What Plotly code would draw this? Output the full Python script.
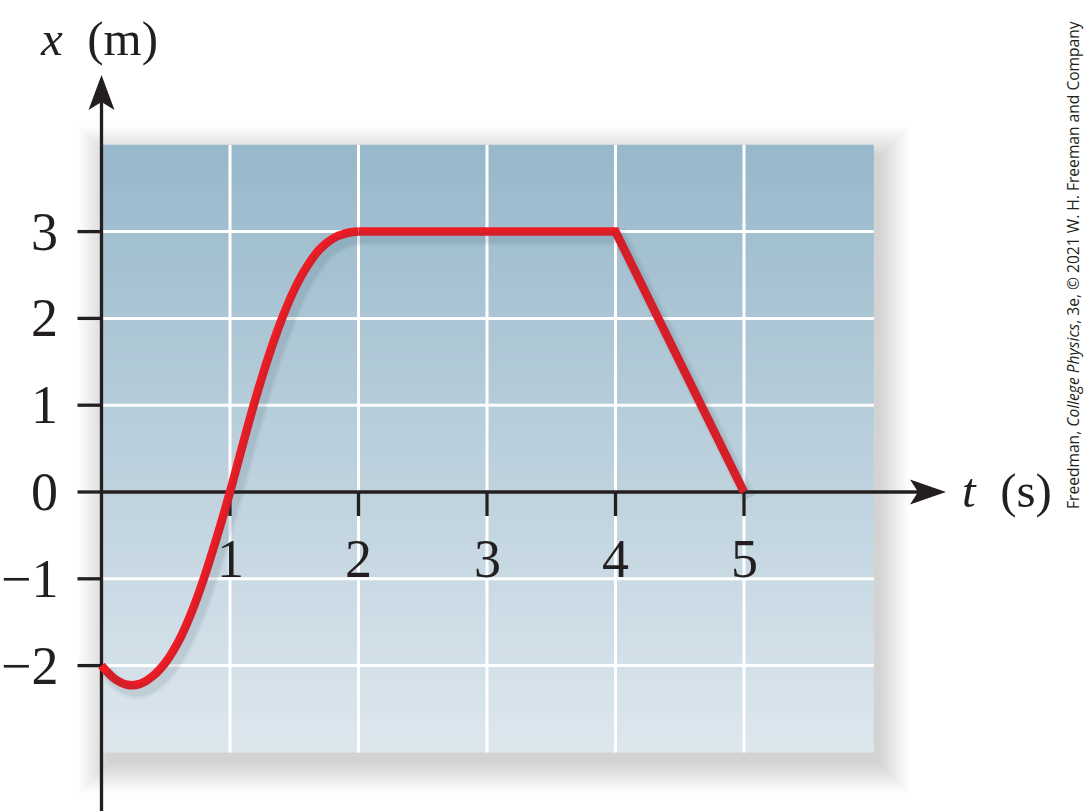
import plotly.graph_objects as go

# ---------------- data ----------------
t_curve = [0.0, 0.1, 0.2, 0.3, 0.4, 0.5, 0.6, 0.7, 0.8, 0.9, 1.0,
           1.1, 1.2, 1.3, 1.4, 1.5, 1.6, 1.7, 1.8, 1.9, 2.0]
x_curve = [-2.0, -2.15, -2.22, -2.21, -2.12, -1.96, -1.72, -1.39, -0.98, -0.51, 0.0,
           0.55, 1.08, 1.56, 1.98, 2.33, 2.6, 2.8, 2.92, 2.98, 3.0]
t_line = [2.0, 4.0, 5.0]
x_line = [3.0, 3.0, 0.0]

x_ticks = [1, 2, 3, 4, 5]
x_tick_labels = ["1", "2", "3", "4", "5"]
y_ticks = [-2, -1, 0, 1, 2, 3]
y_tick_labels = ["\u22122", "\u22121", "0", "1", "2", "3"]
grid_t = [1, 2, 3, 4, 5]
grid_x = [-2, -1, 1, 2, 3]
box_t = [0.0, 6.01]
box_x = [-3.0, 4.0]

x_title = "<i>x</i>\u2002(m)"
t_title = "<i>t</i>\u2002(s)"
credit = "Freedman, <i>College Physics</i>, 3e, \u00a9 2021 W. H. Freeman and Company"

# ---------------- geometry / styling ----------------
W, H = 1086, 811
X0PX, XS = 101.5, 128.5   # pixel of t=0, pixels per second
Y0PX, YS = 492.0, 86.8    # pixel of x=0, pixels per metre


def dt(px):
    return px / XS


def dy(px):
    return px / YS


def tx(px):
    return (px - X0PX) / XS


def ty(py):
    return (Y0PX - py) / YS


xr = [tx(0), tx(W)]
yr = [ty(H), ty(0)]

INK = "#231F20"
RED = "#EE1C25"
TOP = (151, 184, 202)
BOT = (221, 231, 238)

shapes = []

# soft drop shadow behind the panel
sdx, sdy = dt(6), dy(11)
for k in range(22):
    e = 1.4 * k
    shapes.append(dict(type="rect", xref="x", yref="y", layer="below",
                       x0=box_t[0] + sdx - dt(e), x1=box_t[1] + sdx + dt(e),
                       y0=box_x[0] - sdy - dy(e), y1=box_x[1] - sdy + dy(e),
                       fillcolor="rgba(0,0,0,0.0095)", line=dict(width=0)))

# vertical gradient panel
N = 90
span = box_x[1] - box_x[0]
for i in range(N):
    f = (i + 0.5) / N
    c = tuple(round(TOP[j] + (BOT[j] - TOP[j]) * f) for j in range(3))
    y1 = box_x[1] - span * i / N
    y0 = box_x[1] - span * (i + 1) / N - (0.01 if i < N - 1 else 0)
    shapes.append(dict(type="rect", xref="x", yref="y", layer="below",
                       x0=box_t[0], x1=box_t[1], y0=y0, y1=y1,
                       fillcolor="rgb(%d,%d,%d)" % c, line=dict(width=0)))

# white grid
for g in grid_t:
    shapes.append(dict(type="line", xref="x", yref="y", layer="below",
                       x0=g, x1=g, y0=box_x[0], y1=box_x[1],
                       line=dict(color="white", width=3)))
for g in grid_x:
    shapes.append(dict(type="line", xref="x", yref="y", layer="below",
                       x0=box_t[0], x1=box_t[1], y0=g, y1=g,
                       line=dict(color="white", width=3)))

# axes lines
shapes.append(dict(type="line", xref="x", yref="y", layer="below",
                   x0=0, x1=tx(918), y0=0, y1=0, line=dict(color=INK, width=3.3)))
shapes.append(dict(type="line", xref="x", yref="y", layer="below",
                   x0=0, x1=0, y0=ty(811), y1=ty(100), line=dict(color=INK, width=3.3)))

# tick marks
for v in x_ticks:
    shapes.append(dict(type="line", xref="x", yref="y", layer="below",
                       x0=v, x1=v, y0=0, y1=-dy(24), line=dict(color=INK, width=3.3)))
for v in y_ticks:
    shapes.append(dict(type="line", xref="x", yref="y", layer="below",
                       x0=-dt(24), x1=0, y0=v, y1=v, line=dict(color=INK, width=3.3)))


def path(pts):
    return "M " + " L ".join("%f,%f" % p for p in pts) + " Z"


# arrow heads
shapes.append(dict(type="path", xref="x", yref="y", layer="below",
                   path=path([(0, ty(75)), (-dt(13), ty(110)), (0, ty(102)), (dt(13), ty(110))]),
                   fillcolor=INK, line=dict(width=0)))
shapes.append(dict(type="path", xref="x", yref="y", layer="below",
                   path=path([(tx(946), 0), (tx(910), dy(12.5)), (tx(918), 0), (tx(910), -dy(12.5))]),
                   fillcolor=INK, line=dict(width=0)))

fig = go.Figure()

# soft shadow of the red curve (same data, on a slightly shifted overlay axis)
for w, a in [(16, 0.05), (11, 0.08)]:
    fig.add_trace(go.Scatter(x=t_curve, y=x_curve, mode="lines", xaxis="x2", yaxis="y2",
                             line=dict(color="rgba(40,60,75,%.2f)" % a, width=w, shape="spline"),
                             hoverinfo="skip", showlegend=False))
    fig.add_trace(go.Scatter(x=t_line, y=x_line, mode="lines", xaxis="x2", yaxis="y2",
                             line=dict(color="rgba(40,60,75,%.2f)" % a, width=w),
                             hoverinfo="skip", showlegend=False))

fig.add_trace(go.Scatter(x=t_curve, y=x_curve, mode="lines",
                         line=dict(color=RED, width=8.5, shape="spline"),
                         showlegend=False))
fig.add_trace(go.Scatter(x=t_line, y=x_line, mode="lines",
                         line=dict(color=RED, width=8.5),
                         showlegend=False))

annotations = []
serif = "Liberation Serif"
for v, s in zip(x_ticks, x_tick_labels):
    annotations.append(dict(x=v, y=ty(559), xref="x", yref="y", text=s, showarrow=False,
                            xanchor="center", yanchor="middle",
                            font=dict(family=serif, size=54, color=INK)))
for v, s in zip(y_ticks, y_tick_labels):
    annotations.append(dict(x=tx(60), y=v, xref="x", yref="y", text=s, showarrow=False,
                            xanchor="right", yanchor="middle",
                            font=dict(family=serif, size=54, color=INK)))
annotations.append(dict(x=tx(99), y=ty(38), xref="x", yref="y", text=x_title, showarrow=False,
                        xanchor="center", yanchor="middle",
                        font=dict(family=serif, size=49, color=INK)))
annotations.append(dict(x=tx(1007), y=ty(490), xref="x", yref="y", text=t_title, showarrow=False,
                        xanchor="center", yanchor="middle",
                        font=dict(family=serif, size=49, color=INK)))
annotations.append(dict(x=tx(1073), y=ty(265), xref="x", yref="y", text=credit, showarrow=False,
                        textangle=-90, xanchor="center", yanchor="middle",
                        font=dict(family="Open Sans", size=15.6, color=INK)))

fig.update_layout(
    width=W, height=H,
    margin=dict(l=0, r=0, t=0, b=0),
    paper_bgcolor="white", plot_bgcolor="white",
    xaxis=dict(range=xr, visible=False, fixedrange=True),
    yaxis=dict(range=yr, visible=False, fixedrange=True),
    xaxis2=dict(range=[xr[0] - dt(5), xr[1] - dt(5)], overlaying="x", visible=False),
    yaxis2=dict(range=[yr[0] + dy(6), yr[1] + dy(6)], overlaying="y", visible=False),
    shapes=shapes,
    annotations=annotations,
    showlegend=False,
)

fig.write_html("out.html", config={"displayModeBar": False},
               post_script="document.body.style.margin='0';document.body.style.overflow='hidden';")
